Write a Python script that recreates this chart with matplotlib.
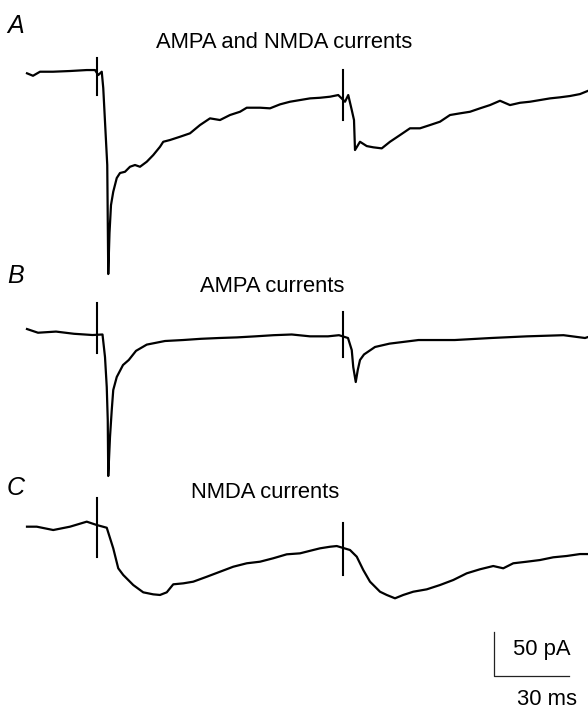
import matplotlib
matplotlib.use("Agg")
import matplotlib.pyplot as plt
import numpy as np

plt.rcParams['font.family'] = ['Liberation Sans', 'DejaVu Sans']

# time (ms) and current (pA, relative to each trace's baseline)
t_A = [0, 2.4, 5.2, 10.4, 17.2, 23.9, 27.2, 28.5, 29.9, 30.5, 31.2, 32.1, 32.5, 33.0, 33.6, 34.5,
       35.9, 37.2, 39.2, 41.2, 43.2, 45.2, 47.9, 50.5, 53.2, 54.5, 57.2, 61.2, 65.2, 69.2, 73.2,
       77.2, 81.2, 85.2, 87.9, 93.2, 97.2, 101.2, 105.2, 109.2, 113.2, 117.2, 121.2, 124.5, 127.2,
       128.5, 129.9, 130.8, 131.2, 133.2, 135.9, 138.5, 141.9, 145.2, 149.2, 153.2, 157.2, 161.2,
       165.2, 169.2, 173.2, 177.2, 181.2, 185.2, 189.2, 193.2, 197.2, 201.2, 205.2, 209.2, 213.2,
       217.2, 221.2, 224.5]
i_A = [-0.3, -3.1, 1.5, 1.5, 2.3, 3.4, 3.4, -2.3, 1.5, -17, -55.3, -104.5, -228.4, -181.8, -150, -134.9,
       -119.3, -113.6, -112.2, -106.5, -104.5, -106.5, -100.8, -93.2, -83.8, -78.1, -76.1, -72.4, -68.5, -59.1, -51.5,
       -53.4, -47.7, -44, -39.4, -39.4, -40.1, -35.6, -32.6, -30.7, -28.8, -28.1, -26.9, -25, -32.6,
       -25, -42, -53.4, -87.5, -78.1, -83, -84.4, -85.6, -78.1, -70.5, -62.8, -62.8, -59.1,
       -55.3, -47.7, -45.8, -44, -40.1, -36.4, -31.5, -36.4, -33.8, -32.6, -30.7, -28.8, -27.6,
       -26.1, -23.9, -20.1]

t_B = [0, 4.4, 11.6, 18.8, 26.2, 30.2, 31.2, 31.9, 32.3, 32.5, 33.2, 33.9, 34.5, 35.9, 38.4, 40.7,
       43.6, 47.9, 55.2, 62.4, 69.6, 76.8, 84.0, 91.4, 98.6, 105.9, 113.2, 120.4, 124.8, 128.4,
       129.9, 130.5, 131.5, 132.3, 133.2, 134.8, 139.2, 145.0, 156.6, 171.1, 185.6, 200.0, 214.6,
       223.2, 224.4]
i_B = [3.4, -0.8, 0.5, -2, -3.4, -2.8, -28.4, -62.5, -100, -163.6, -119.3, -88.6, -65.9, -51.1, -37.5, -31.8,
       -21.4, -14.3, -10.2, -9.1, -7.7, -6.8, -6.1, -4.9, -3.6, -2.8, -4.9, -4.9, -3.6, -6.8,
       -20.5, -39.8, -56.8, -43.2, -31.8, -25.5, -17, -13.2, -9.1, -9.1, -6.8, -4.9, -3.6,
       -6.8, -5.7]

t_C = [0, 3.9, 10.5, 17.2, 23.9, 27.9, 31.9, 34.5, 36.5, 38.5, 42.5, 46.5, 50.5, 53.2, 55.9, 58.5,
       62.5, 66.5, 71.9, 77.2, 82.5, 87.9, 93.2, 98.5, 103.9, 109.2, 114.5, 117.2, 121.2, 123.9,
       129.2, 131.9, 134.5, 137.2, 141.2, 143.9, 147.2, 150.5, 154.5, 159.9, 165.2, 170.5, 175.9,
       181.2, 186.5, 190.5, 194.5, 199.9, 205.2, 210.5, 215.9, 221.2, 224.4]
i_C = [-1.9, -1.9, -5.7, -1.9, 3.8, 0, -3.1, -26.5, -49.2, -56.8, -68.2, -76.5, -78.8, -79.5, -76.5, -67.4,
       -66.3, -64.4, -58.8, -53.1, -47.4, -43.5, -41.7, -37.8, -33.3, -32.2, -28.4, -26.5, -24.7, -23.9,
       -28.4, -36, -51.1, -64.4, -75.8, -79.5, -83.3, -79.5, -75.8, -73.1, -68.2, -62.5, -54.9,
       -50.3, -46.6, -49.2, -43.5, -41.7, -39.8, -36.7, -35.2, -33, -33]

# stimulus artifacts: times (ms) and extents (pA, relative to baseline)
stim_t = [28.0, 126.3]
art_A = [(17, -25), (3.4, -53.4)]
art_B = [(33, -23.9), (22.7, -28.4)]
art_C = [(30.7, -36.4), (2.3, -56.8)]

titles = ["AMPA and NMDA currents", "AMPA currents", "NMDA currents"]
panels = ["A", "B", "C"]
baselines = [-83.0, -377.3, -596.6]   # vertical placement of each trace (pA)

W, H = 588, 711
fig = plt.figure(figsize=(W / 100, H / 100), dpi=100)
ax = fig.add_axes([0, 0, 1, 1])
ax.set_xlim(-10.8, 224.4)
ax.set_ylim(-H / 0.88, 0)
ax.axis('off')

traces = [(t_A, i_A, art_A), (t_B, i_B, art_B), (t_C, i_C, art_C)]
for (t, i, art), b in zip(traces, baselines):
    ax.plot(t, np.array(i) + b, color='black', lw=1.6, solid_joinstyle='round')
    for st, (hi, lo) in zip(stim_t, art):
        ax.plot([st, st], [b + hi, b + lo], color='black', lw=1.5)

# scale bars: 30 ms, 50 pA
sb_t0, sb_y0 = 186.8, -768.2
ax.plot([sb_t0, sb_t0, sb_t0 + 30], [sb_y0 + 50, sb_y0, sb_y0], color='#222222', lw=0.9)

def fx(px):
    return px / W

def fy(py):
    return 1 - py / H

title_pos = [(284, 48), (272, 292), (265, 498)]
for txt, (x, y) in zip(titles, title_pos):
    fig.text(fx(x), fy(y), txt, ha='center', va='baseline', fontsize=15.8)

panel_pos = [(7, 33), (7, 283), (7, 495)]
for txt, (x, y) in zip(panels, panel_pos):
    fig.text(fx(x), fy(y), txt, ha='left', va='baseline', fontsize=18, style='italic')

fig.text(fx(513), fy(655), "50 pA", ha='left', va='baseline', fontsize=15.8)
fig.text(fx(517), fy(705), "30 ms", ha='left', va='baseline', fontsize=15.8)

fig.savefig("out.png", dpi=100)
